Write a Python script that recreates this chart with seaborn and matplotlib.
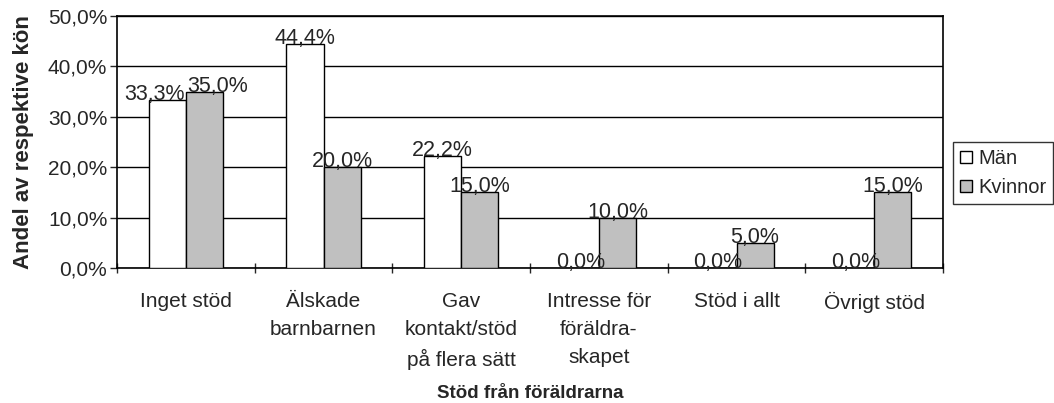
import numpy as np
import pandas as pd
import seaborn as sns
import matplotlib.pyplot as plt
from matplotlib.ticker import FuncFormatter, FixedLocator

categories = ["Inget stöd", "Älskade\nbarnbarnen", "Gav\nkontakt/stöd\npå flera sätt",
              "Intresse för\nföräldra-\nskapet", "Stöd i allt", "Övrigt stöd"]
man = [33.3, 44.4, 22.2, 0.0, 0.0, 0.0]
kvinnor = [35.0, 20.0, 15.0, 10.0, 5.0, 15.0]
series = ["Män", "Kvinnor"]

df = pd.DataFrame({
    "kat": categories * 2,
    "kon": [series[0]] * 6 + [series[1]] * 6,
    "andel": man + kvinnor,
})

sns.set_style("white")
plt.rcParams['font.family'] = ['Liberation Sans', 'DejaVu Sans']

fig = plt.figure(figsize=(10.54, 4.03), dpi=100)
ax = fig.add_axes([117 / 1054, 1 - 268 / 403, 826 / 1054, 252 / 403])

sns.barplot(data=df, x="kat", y="andel", hue="kon", palette=["white", "#C0C0C0"],
            edgecolor="black", linewidth=1, width=0.54, ax=ax, zorder=3, legend=True)

ax.set_ylim(0, 50)
ax.set_xlim(-0.5, 5.5)
ax.yaxis.set_major_locator(FixedLocator(np.arange(0, 51, 10)))
ax.yaxis.set_major_formatter(FuncFormatter(lambda v, p: f"{v:.1f}%".replace(".", ",")))
ax.grid(axis="y", color="black", linewidth=1, zorder=0)
ax.set_axisbelow(True)
for s in ax.spines.values():
    s.set_color("black")
    s.set_linewidth(1.2)

ax.tick_params(axis="y", left=True, length=5, width=1, labelsize=15, pad=2)
ax.tick_params(axis="x", which="major", length=0, labelsize=15, pad=17)
ax.xaxis.set_minor_locator(FixedLocator(np.arange(-0.5, 6, 1)))
ax.tick_params(axis="x", which="minor", bottom=True, length=7, width=1, direction="inout")
ax.set_xticks(range(6))
ax.set_xticklabels(categories, linespacing=1.6)

ax.set_xlabel("Stöd från föräldrarna", fontsize=13.5, fontweight="bold", labelpad=11)
ax.set_ylabel("Andel av respektive kön", fontsize=16, fontweight="bold", labelpad=10)

# data labels, sitting on the bar top
labels_by_group = {}
for cont in ax.containers:
    for i, bar in enumerate(cont):
        h = bar.get_height()
        t = ax.text(bar.get_x() + bar.get_width() / 2, h, f"{h:.1f}%".replace(".", ","),
                    ha="center", va="baseline", fontsize=15.5, zorder=5)
        labels_by_group.setdefault(i, []).append(t)

# push apart the two labels of a group if they collide sideways
fig.canvas.draw()
r = fig.canvas.get_renderer()
inv = ax.transData.inverted()
for i, (t1, t2) in labels_by_group.items():
    b1 = t1.get_window_extent(r)
    b2 = t2.get_window_extent(r)
    gap = b1.x1 - b2.x0
    if gap > -3 and b1.overlaps(b2):
        shift = (gap + 3) / 2
        x1 = inv.transform((b1.x0 + b1.width / 2 - shift, 0))[0]
        x2 = inv.transform((b2.x0 + b2.width / 2 + shift, 0))[0]
        t1.set_x(x1)
        t2.set_x(x2)

handles, labels = ax.get_legend_handles_labels()
ax.legend(handles, labels, loc="upper left", bbox_to_anchor=(953 / 1054, 1 - 142 / 403),
          bbox_transform=fig.transFigure, frameon=True, fancybox=False, edgecolor="black",
          fontsize=14.5, handlelength=0.6, handleheight=0.6, handletextpad=0.3,
          borderpad=0.35, labelspacing=0.5, borderaxespad=0)

fig.savefig("out.png", dpi=100)
